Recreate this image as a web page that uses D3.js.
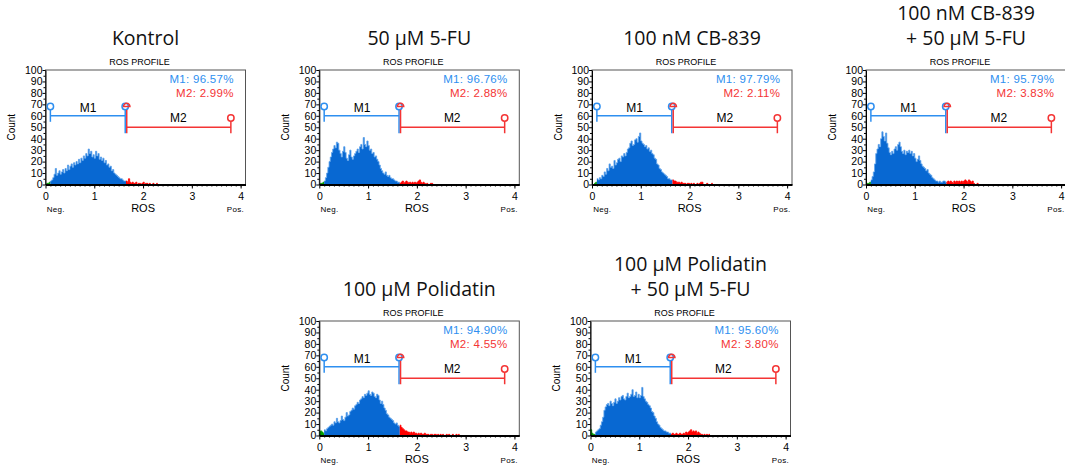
<!DOCTYPE html>
<html>
<head>
<meta charset="utf-8">
<script src="https://cdn.jsdelivr.net/npm/d3@7"></script>
<style>
  body { margin: 0; background: #fff; }
  text { font-family: "Liberation Sans", Arial, sans-serif; }
  .title { font-family: "Open Sans", sans-serif; font-size: 19.5px; fill: #111; }
</style>
</head>
<body>
<svg id="chart" width="1065" height="470"></svg>
<script>
// panel titles (one entry per line)
const titles = [
  ["Kontrol"],
  ["50 µM 5-FU"],
  ["100 nM CB-839"],
  ["100 nM CB-839", "+ 50 µM 5-FU"],
  ["100 µM Polidatin"],
  ["100 µM Polidatin", "+ 50 µM 5-FU"]
];
const m1Pct = ["96.57%", "96.76%", "97.79%", "95.79%", "94.90%", "95.60%"];
const m2Pct = ["2.99%", "2.88%", "2.11%", "3.83%", "4.55%", "3.80%"];

const xTicks = [0, 1, 2, 3, 4];
const yTicks = [0, 10, 20, 30, 40, 50, 60, 70, 80, 90, 100];

// gates: M1 [0.1, 1.65] drawn at count 60, M2 [1.65, 3.8] drawn at count 50
const m1Gate = [0.1, 1.65];
const m2Gate = [1.65, 3.8];
const m1Level = 60;
const m2Level = 50;

// histogram counts, bins of 0.025 ROS units starting at 0
const binWidth = 0.025;
const kontrolCounts = [
  0, 1, 1, 2, 3, 4, 6, 9, 14, 8, 10, 12, 9, 11, 13, 10, 14, 12, 17, 13,
  16, 18, 15, 19, 17, 20, 18, 22, 19, 23, 21, 25, 23, 27, 25, 31, 27, 29, 24, 26,
  23, 29, 25, 27, 22, 24, 21, 23, 19, 21, 17, 18, 15, 16, 12, 13, 10, 9, 8, 7,
  6, 5, 5, 4, 3, 3, 3, 2, 5, 2, 1, 2, 1, 1, 2, 0, 1, 1, 0, 1,
  2, 0, 1, 1, 0, 1, 0, 0, 1, 0, 0, 1
];
const fuCounts = [
  0, 1, 1, 2, 3, 6, 10, 15, 20, 24, 28, 31, 34, 32, 37, 36, 30, 27, 24, 29,
  33, 28, 23, 21, 26, 30, 24, 22, 25, 27, 29, 31, 28, 33, 35, 31, 41, 35, 33, 38,
  34, 30, 31, 27, 28, 24, 25, 22, 20, 17, 14, 12, 10, 9, 11, 8, 7, 8, 6, 5,
  5, 4, 3, 3, 2, 2, 1, 2, 3, 1, 2, 3, 2, 1, 2, 1, 2, 1, 2, 1,
  2, 3, 4, 2, 1, 2, 1, 0, 1, 0, 0, 1, 1, 0
];
const cbCounts = [
  0, 0, 1, 2, 5, 4, 6, 5, 8, 7, 11, 9, 14, 12, 18, 15, 16, 14, 21, 17,
  19, 22, 23, 20, 25, 24, 27, 25, 28, 31, 32, 36, 38, 34, 35, 39, 40, 37, 42, 45,
  38, 36, 35, 33, 34, 31, 32, 29, 30, 27, 26, 23, 22, 18, 17, 14, 13, 11, 10, 9,
  8, 7, 5, 5, 4, 4, 4, 3, 3, 2, 2, 2, 1, 2, 1, 1, 1, 0, 1, 1,
  0, 1, 0, 1, 0, 0, 1, 0, 1, 2, 2, 0, 0, 0, 1, 0, 0, 0, 1
];
const cbFuCounts = [
  0, 1, 1, 2, 4, 7, 11, 18, 27, 31, 35, 33, 40, 46, 42, 38, 45, 36, 32, 28,
  26, 29, 27, 31, 33, 30, 35, 37, 33, 29, 27, 30, 26, 29, 28, 30, 27, 29, 25, 27,
  23, 20, 22, 25, 21, 18, 16, 15, 14, 12, 13, 10, 9, 8, 6, 5, 4, 3, 3, 2,
  3, 2, 2, 3, 3, 2, 2, 3, 2, 3, 2, 1, 3, 2, 3, 2, 3, 2, 3, 2,
  3, 4, 3, 2, 4, 3, 2, 3, 1, 0, 0, 1, 0
];
const polCounts = [
  3, 4, 3, 2, 5, 4, 6, 7, 8, 9, 10, 9, 12, 11, 15, 12, 11, 13, 17, 14,
  13, 16, 20, 17, 18, 21, 22, 24, 23, 26, 27, 29, 28, 31, 32, 34, 33, 36, 35, 37,
  39, 36, 35, 38, 37, 34, 33, 36, 35, 31, 28, 30, 27, 24, 22, 19, 18, 16, 15, 14,
  13, 11, 10, 11, 9, 8, 9, 7, 6, 5, 4, 4, 3, 3, 2, 3, 2, 3, 2, 2,
  1, 2, 1, 2, 1, 1, 2, 1, 1, 1, 0, 1, 1, 0, 1, 1, 0, 1, 0, 1,
  0, 1, 0, 0, 1, 0, 1, 0, 0, 1, 0, 0, 1, 0, 1
];
const polFuCounts = [
  5, 2, 1, 1, 3, 4, 5, 6, 9, 12, 16, 22, 25, 27, 28, 26, 30, 28, 26, 29,
  32, 28, 30, 33, 31, 34, 35, 32, 31, 34, 37, 33, 34, 36, 40, 34, 35, 38, 33, 36,
  33, 35, 42, 34, 32, 30, 29, 27, 26, 24, 21, 20, 17, 15, 12, 10, 9, 7, 6, 5,
  4, 4, 3, 3, 2, 2, 1, 2, 1, 1, 2, 1, 1, 2, 1, 1, 2, 1, 3, 2,
  3, 4, 5, 3, 4, 3, 4, 2, 3, 2, 1, 1, 0, 1, 0, 1, 0, 1
];
const panelCounts = [kontrolCounts, fuCounts, cbCounts, cbFuCounts, polCounts, polFuCounts];

// layout: plot origin (left, top) of each panel
const layout = [[45.5, 70], [319.3, 70], [592, 70], [866, 70], [319.3, 321], [590.5, 321]];
const plotW = 200;
const plotH = 114.5;

const col = {
  hist: "#0868d2",
  histEdge: "#5ea3ec",
  red: "#ff0000",
  green: "#00a000",
  m1: "#2e8ff0",
  m2: "#f43434"
};

const svg = d3.select("#chart");

titles.forEach((t, i) => drawPanel(i));

function drawPanel(i) {
  const [left, top] = layout[i];
  const g = svg.append("g").attr("transform", `translate(${left},${top})`);

  const x = d3.scaleLinear().domain([0, 4.1]).range([0, plotW]);
  const y = d3.scaleLinear().domain([0, 100]).range([plotH, 0]);

  // title
  const lines = titles[i];
  g.selectAll(".title")
    .data(lines)
    .enter()
    .append("text")
    .attr("class", "title")
    .attr("x", plotW / 2)
    .attr("y", (d, k) => -25.5 - (lines.length - 1 - k) * 25)
    .attr("text-anchor", "middle")
    .text(d => d);

  g.append("text")
    .attr("x", plotW / 2 - 6)
    .attr("y", -5)
    .attr("text-anchor", "middle")
    .style("font-size", "9px")
    .text("ROS PROFILE");

  // box
  g.append("rect")
    .attr("width", plotW)
    .attr("height", plotH)
    .attr("fill", "none")
    .attr("stroke", "#555")
    .attr("stroke-width", 1);

  // histogram
  const bins = panelCounts[i].map((c, k) => ({ x0: k * binWidth, c: c }));
  const parts = [
    { color: col.green, edge: col.green, data: bins.filter(b => b.x0 < m1Gate[0] - 1e-9) },
    { color: col.hist, edge: col.histEdge, data: bins.filter(b => b.x0 >= m1Gate[0] - 1e-9 && b.x0 < m1Gate[1] - 1e-9) },
    { color: col.red, edge: col.red, data: bins.filter(b => b.x0 >= m1Gate[1] - 1e-9) }
  ];
  const area = d3.area()
    .curve(d3.curveStepAfter)
    .x(d => x(d.x0))
    .y0(y(0))
    .y1(d => y(d.c));
  const line = d3.line()
    .curve(d3.curveStepAfter)
    .x(d => x(d.x0))
    .y(d => y(d.c));
  parts.forEach(p => {
    if (!p.data.length) return;
    const last = p.data[p.data.length - 1];
    const pts = p.data.concat([{ x0: last.x0 + binWidth, c: last.c }]);
    g.append("path").attr("d", area(pts)).attr("fill", p.color);
    g.append("path").attr("d", line(pts)).attr("fill", "none")
      .attr("stroke", p.edge).attr("stroke-width", 0.8);
  });

  // axes
  const yMinor = g.append("g").call(
    d3.axisLeft(y).tickValues(d3.range(5, 100, 10)).tickSize(2).tickSizeOuter(0).tickFormat("")
  );
  yMinor.select(".domain").remove();
  const yAx = g.append("g").call(
    d3.axisLeft(y).tickValues(yTicks).tickSize(3).tickSizeOuter(0).tickPadding(0)
  );
  yAx.attr("font-family", null);
  yAx.selectAll("text").style("font-size", "10.5px").attr("fill", "#000");

  const xMinor = g.append("g").attr("transform", `translate(0,${plotH})`).call(
    d3.axisBottom(x).tickValues(d3.range(0.1, 4.05, 0.1)).tickSize(2).tickSizeOuter(0).tickFormat("")
  );
  xMinor.select(".domain").remove();
  const xAx = g.append("g").attr("transform", `translate(0,${plotH})`).call(
    d3.axisBottom(x).tickValues(xTicks).tickFormat(d3.format("d")).tickSize(4).tickSizeOuter(0).tickPadding(4)
  );
  xAx.attr("font-family", null);
  xAx.selectAll("text").style("font-size", "10.5px").attr("fill", "#000");
  xAx.select(".domain").attr("stroke-width", 2);

  g.append("text")
    .attr("transform", `translate(-30.5,${plotH / 2}) rotate(-90)`)
    .attr("text-anchor", "middle")
    .style("font-size", "10px")
    .text("Count");

  g.append("text")
    .attr("x", 1.2)
    .attr("y", plotH + 27)
    .style("font-size", "8px")
    .style("letter-spacing", "0.3px")
    .text("Neg.");
  g.append("text")
    .attr("x", plotW - 1.5)
    .attr("y", plotH + 27)
    .attr("text-anchor", "end")
    .style("font-size", "8px")
    .style("letter-spacing", "0.3px")
    .text("Pos.");
  g.append("text")
    .attr("x", x(2))
    .attr("y", plotH + 27.5)
    .attr("text-anchor", "middle")
    .style("font-size", "11px")
    .text("ROS");

  // gate markers
  const yl1 = y(m1Level);
  const yl2 = y(m2Level);
  const xa = x(m1Gate[0]);
  const xb = x(m1Gate[1]);
  const xc = x(m2Gate[1]);
  const mk = g.append("g").attr("fill", "none").attr("stroke-width", 1.5);

  mk.append("line").attr("x1", xa).attr("x2", xb - 0.75).attr("y1", yl1).attr("y2", yl1).attr("stroke", col.m1);
  mk.append("line").attr("x1", xa).attr("x2", xa).attr("y1", yl1 + 6).attr("y2", yl1 - 6).attr("stroke", col.m1);
  mk.append("line").attr("x1", xb - 0.75).attr("x2", xb - 0.75).attr("y1", yl2 + 6).attr("y2", yl1 - 6).attr("stroke", col.m1);
  mk.append("circle").attr("cx", xa).attr("cy", yl1 - 9.3).attr("r", 3.2).attr("fill", "#fff").attr("stroke", col.m1);
  mk.append("circle").attr("cx", xb - 0.75).attr("cy", yl1 - 9.3).attr("r", 3.2).attr("fill", "#fff").attr("stroke", col.m1);

  mk.append("line").attr("x1", xb + 0.75).attr("x2", xc).attr("y1", yl2).attr("y2", yl2).attr("stroke", col.m2);
  mk.append("line").attr("x1", xb + 0.75).attr("x2", xb + 0.75).attr("y1", yl2 + 6).attr("y2", yl1 - 6).attr("stroke", col.m2);
  mk.append("line").attr("x1", xc).attr("x2", xc).attr("y1", yl2 + 6).attr("y2", yl2 - 6).attr("stroke", col.m2);
  mk.append("path")
    .attr("d", d3.arc()({ innerRadius: 0, outerRadius: 3.2, startAngle: -Math.PI / 2, endAngle: Math.PI / 2 }))
    .attr("transform", `translate(${xb + 0.75},${yl1 - 9.3})`)
    .attr("stroke", col.m2);
  mk.append("circle").attr("cx", xc).attr("cy", yl2 - 9.3).attr("r", 3.2).attr("fill", "#fff").attr("stroke", col.m2);

  g.append("text")
    .attr("x", (xa + xb) / 2)
    .attr("y", yl1 - 4)
    .attr("text-anchor", "middle")
    .style("font-size", "12px")
    .text("M1");
  g.append("text")
    .attr("x", (xb + xc) / 2)
    .attr("y", yl2 - 5)
    .attr("text-anchor", "middle")
    .style("font-size", "12px")
    .text("M2");

  g.append("text")
    .attr("x", x(3.86))
    .attr("y", 12.7)
    .attr("text-anchor", "end")
    .attr("fill", col.m1)
    .style("font-size", "11.5px")
    .style("letter-spacing", "0.3px")
    .text("M1: " + m1Pct[i]);
  g.append("text")
    .attr("x", x(3.86))
    .attr("y", 26.7)
    .attr("text-anchor", "end")
    .attr("fill", col.m2)
    .style("font-size", "11.5px")
    .style("letter-spacing", "0.3px")
    .text("M2: " + m2Pct[i]);
}
</script>
</body>
</html>
